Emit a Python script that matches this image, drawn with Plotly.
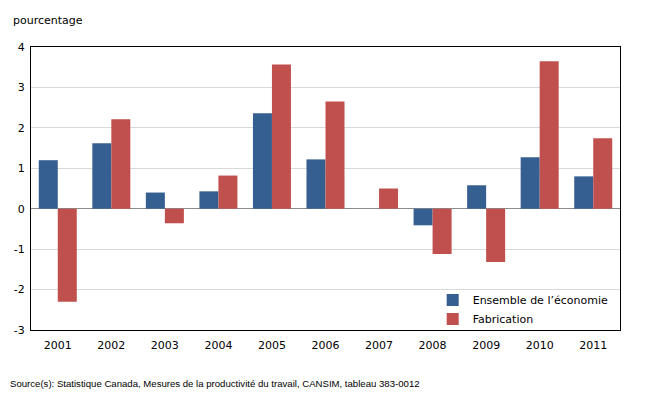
import plotly.graph_objects as go

years = ["2001", "2002", "2003", "2004", "2005", "2006", "2007", "2008", "2009", "2010", "2011"]
ensemble = [1.2, 1.62, 0.40, 0.43, 2.36, 1.22, 0.0, -0.41, 0.58, 1.27, 0.80]
fabrication = [-2.3, 2.21, -0.36, 0.82, 3.57, 2.65, 0.50, -1.12, -1.32, 3.65, 1.74]
y_ticks = [-3, -2, -1, 0, 1, 2, 3, 4]
y_tick_text = ["-3", "-2", "-1", "0", "1", "2", "3", "4"]

FONT = "DejaVu Sans"

fig = go.Figure()
fig.add_trace(go.Bar(x=years, y=ensemble, name="Ensemble de l\u2019\u00e9conomie",
                     marker=dict(color="#365F91", line=dict(width=0))))
fig.add_trace(go.Bar(x=years, y=fabrication, name="Fabrication",
                     marker=dict(color="#C0504D", line=dict(width=0))))

fig.update_layout(
    width=659, height=402,
    margin=dict(l=31, r=39, t=47, b=72),
    paper_bgcolor="white", plot_bgcolor="white",
    barmode="group", bargap=0.29, bargroupgap=0,
    font=dict(family=FONT, size=11, color="black"),
    showlegend=True,
    legend=dict(x=0.682, y=-0.012, xanchor="left", yanchor="bottom",
                bgcolor="rgba(0,0,0,0)", font=dict(size=11, family=FONT),
                tracegroupgap=0, itemwidth=30),
    xaxis=dict(showline=True, linecolor="black", linewidth=1, mirror=True,
               ticks="", tickfont=dict(size=11), showgrid=False,
               ticklabelstandoff=5),
    yaxis=dict(range=[-3, 4], tickvals=y_ticks, ticktext=y_tick_text,
               showline=True, linecolor="black",
               linewidth=1, mirror=True, showgrid=True, gridcolor="#d9d9d9",
               zeroline=True, zerolinecolor="#8c8c8c", zerolinewidth=1,
               ticks="", tickfont=dict(size=11), ticklabelstandoff=3),
    annotations=[
        dict(text="pourcentage", xref="paper", yref="paper", x=-0.034, y=1.0,
             xanchor="left", yanchor="bottom", yshift=18, showarrow=False,
             font=dict(size=11, family=FONT)),
        dict(text="Source(s): Statistique Canada, Mesures de la productivit\u00e9 du travail, CANSIM, tableau 383-0012",
             xref="paper", yref="paper", x=-0.039, y=0, xanchor="left", yanchor="top",
             yshift=-46, showarrow=False, font=dict(size=9.6, family="Liberation Sans")),
    ],
)

fig.write_html("out.html")
